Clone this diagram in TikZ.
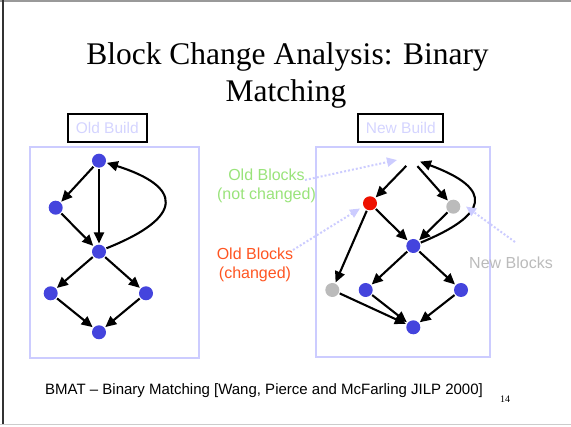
\documentclass[tikz,border=0pt]{standalone}
\usepackage{fontspec}
\setmainfont{Liberation Serif}
\setsansfont{Liberation Sans}
\usetikzlibrary{arrows.meta}
\definecolor{dotblue}{HTML}{4444DD}
\definecolor{dotred}{HTML}{EE1100}
\definecolor{dotgray}{HTML}{BBBBBB}
\definecolor{lav}{HTML}{CCCCFF}
\definecolor{lavtext}{HTML}{D4D4FF}
\definecolor{greentext}{HTML}{99E37A}
\definecolor{orangetext}{HTML}{FF5522}
\begin{document}
\begin{tikzpicture}[x=1pt,y=-1pt,
  blk/.style={circle,fill=#1,inner sep=0pt,minimum size=14pt},
  blk/.default=dotblue,
  hole/.style={circle,inner sep=0pt,minimum size=14pt},
  flow/.style={line width=2.1pt,-{Triangle[length=11pt,width=10pt]},shorten <=1pt,shorten >=1pt},
  hint/.style={lav,line width=2pt,dotted,-{Triangle[length=10pt,width=9pt]}},
  frame/.style={draw=lav,line width=2.5pt},
  buildlabel/.style={draw=black,line width=2pt,text=lavtext,font=\sffamily\fontsize{15.5}{18}\selectfont,minimum height=28pt,inner sep=0pt},
  sidetext/.style={font=\sffamily\fontsize{16}{18.5}\selectfont,align=center,inner sep=0pt}]
\useasboundingbox (0,0) rectangle (571,427);
% slide edges
\draw[gray!80,line width=1.2pt] (0,1) -- (571,1);
\draw[black!80,line width=1.2pt] (3,0) -- (3,424);
\draw[black!20,line width=1.2pt] (0,424.5) -- (571,424.5);

% title
\node[anchor=base,inner sep=0pt,font=\fontsize{31.5}{37}\selectfont] (t1) at (287.5,64.3) {Block Change Analysis: Binary};
\node[anchor=base,inner sep=0pt,font=\fontsize{31.5}{37}\selectfont] (t2) at (286,101.7) {Matching};

% old build
\node[buildlabel,minimum width=79pt] (oldlbl) at (107.2,128) {Old Build};
\draw[frame] (30,147) rectangle (199,358);
\node[blk] (o1) at (99,160.7) {};
\node[blk] (o2) at (55.7,207.7) {};
\node[blk] (o3) at (99,251.7) {};
\node[blk] (o4) at (50.7,293.3) {};
\node[blk] (o5) at (146,293.3) {};
\node[blk] (o6) at (99,332.3) {};
\draw[flow] (o1) -- (o2);
\draw[flow] (o1) -- (o3);
\draw[flow] (o2) -- (o3);
\draw[flow] (o3) -- (o4);
\draw[flow] (o3) -- (o5);
\draw[flow] (o4) -- (o6);
\draw[flow] (o5) -- (o6);
\draw[flow] (o3.25) .. controls +(80,-32) and +(76,24) .. (o1.-15);

% new build
\node[buildlabel,minimum width=85pt] (newlbl) at (400.8,128.2) {New Build};
\draw[frame] (316,147) rectangle (490,357);
\node[hole] (n1) at (412,160) {};
\node[blk=dotred] (n2) at (370,203.3) {};
\node[blk=dotgray] (n3) at (453.3,206.7) {};
\node[blk] (n4) at (413.3,246) {};
\node[blk=dotgray] (n5) at (332.3,290) {};
\node[blk] (n6) at (365.7,290) {};
\node[blk] (n7) at (461,290) {};
\node[blk] (n8) at (413.3,327.3) {};
\draw[flow] (n1) -- (n2);
\draw[flow] (n1) -- (n3);
\draw[flow] (n2) -- (n4);
\draw[flow] (n3) -- (n4);
\draw[flow] (n2) -- (n5);
\draw[flow] (n4) -- (n6);
\draw[flow] (n4) -- (n7);
\draw[flow] (n5) -- (n8);
\draw[flow] (n6) -- (n8);
\draw[flow] (n7) -- (n8);
\draw[flow] (n4.25) .. controls +(68,-28) and +(76,28) .. (n1.-10);

% annotations
\node[sidetext,text=greentext] (unch) at (266.5,186) {Old Blocks\\(not changed)};
\node[sidetext,text=orangetext] (chg) at (255,265) {Old Blocks\\(changed)};
\node[sidetext,text=dotgray] (newb) at (511,262.3) {New Blocks};
\coordinate (unchtail) at (305,180);
\coordinate (unchhead) at (397,160);
\coordinate (chgtail) at (293,250);
\coordinate (chghead) at (360,208.5);
\coordinate (newtail) at (515,242);
\coordinate (newhead) at (466,206.5);
\draw[hint] (unchtail) -- (unchhead);
\draw[hint] (chgtail) -- (chghead);
\draw[hint] (newtail) -- (newhead);

% footer
\node[anchor=base west,inner sep=0pt,font=\sffamily\fontsize{15}{18}\selectfont] (cite) at (45,395) {BMAT – Binary Matching [Wang, Pierce and McFarling JILP 2000]};
\node[anchor=base west,inner sep=0pt,font=\fontsize{10}{12}\selectfont] (pg) at (500,403) {14};
\end{tikzpicture}
\end{document}
